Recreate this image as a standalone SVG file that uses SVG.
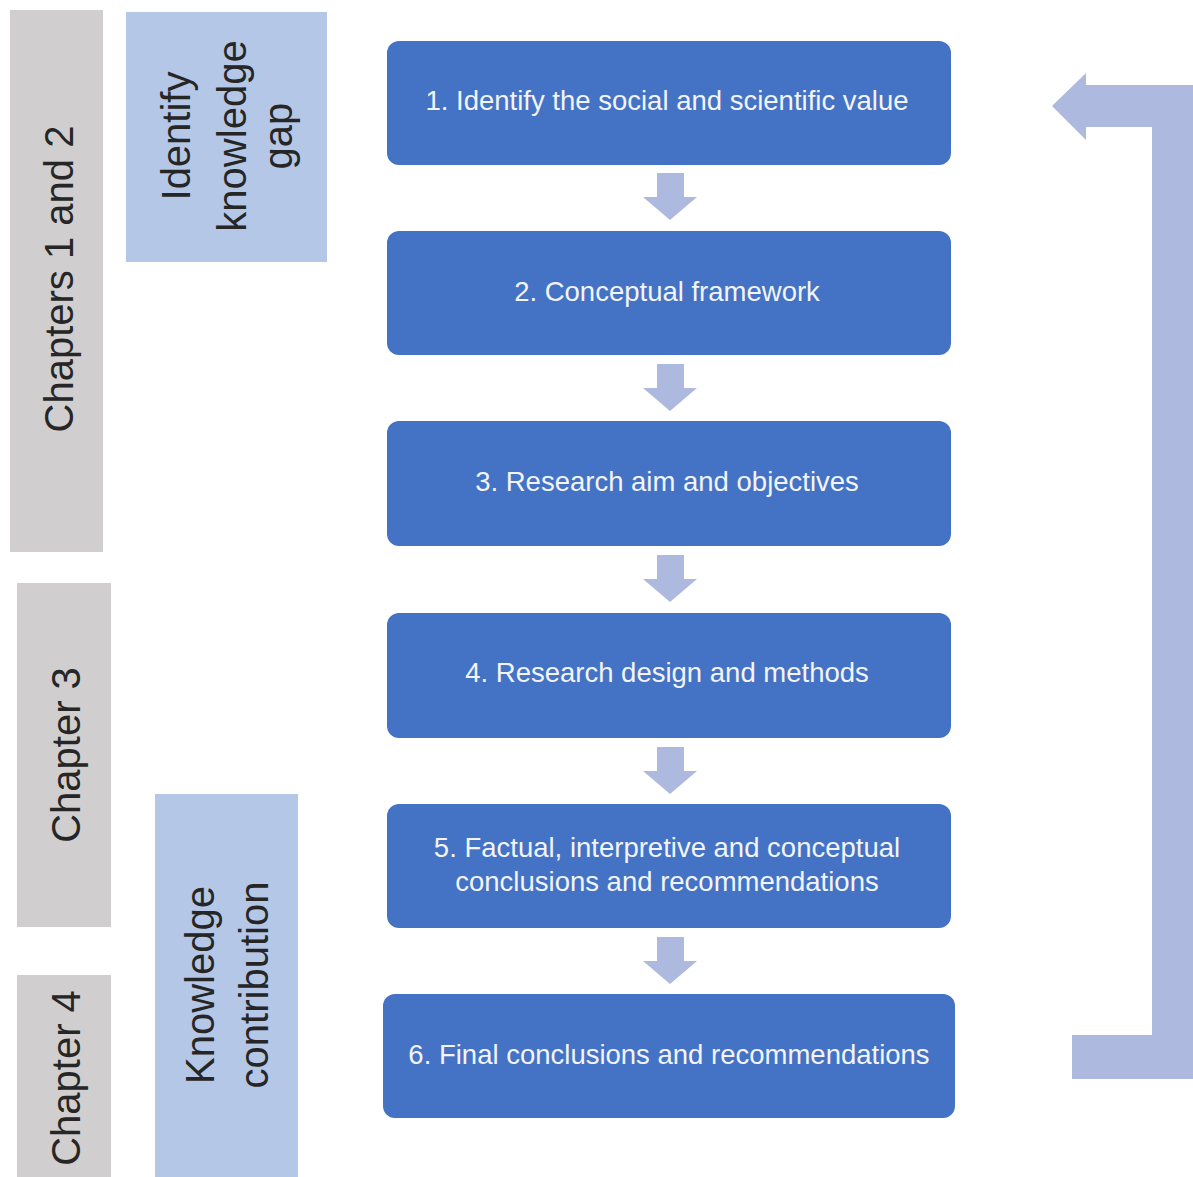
<svg xmlns="http://www.w3.org/2000/svg" xmlns:xlink="http://www.w3.org/1999/xlink" width="1193" height="1177" viewBox="0 0 1193 1177">
<style>
.chap{fill:#d0cece}
.lb{fill:#b4c7e7}
.step{fill:#4472c4}
.side{font-family:"Liberation Sans",Arial,sans-serif;font-size:40px;fill:#262626;text-anchor:middle}
.stxt{font-family:"Liberation Sans",Arial,sans-serif;font-size:27.5px;fill:#f2f4f8;text-anchor:middle}
.arr{fill:#adb9de}
</style>
<defs>
<path id="down" d="M-13,0 H14 V24 H27 L0,47 L-27,24 H-13 Z"/>
</defs>
<rect width="1193" height="1177" fill="#ffffff"/>

<g id="chapters12">
<rect class="chap" x="10" y="10" width="93" height="542"/>
<text class="side" transform="translate(73,279) rotate(-90)">Chapters 1 and 2</text>
</g>
<g id="identify-gap">
<rect class="lb" x="126" y="12" width="201" height="250"/>
<text class="side" transform="translate(190,136) rotate(-90)">Identify</text>
<text class="side" transform="translate(246,136) rotate(-90)">knowledge</text>
<text class="side" transform="translate(292,136) rotate(-90)">gap</text>
</g>
<g id="chapter3">
<rect class="chap" x="17" y="583" width="94" height="344"/>
<text class="side" transform="translate(80,755) rotate(-90)">Chapter 3</text>
</g>
<g id="chapter4">
<rect class="chap" x="17" y="975" width="94" height="202"/>
<text class="side" transform="translate(80,1078) rotate(-90)">Chapter 4</text>
</g>
<g id="knowledge-contribution">
<rect class="lb" x="155" y="794" width="143" height="383"/>
<text class="side" transform="translate(214,985) rotate(-90)">Knowledge</text>
<text class="side" transform="translate(268,985) rotate(-90)">contribution</text>
</g>

<g id="step1">
<rect class="step" x="387" y="41" width="564" height="124" rx="12"/>
<text class="stxt" x="667" y="110">1. Identify the social and scientific value</text>
</g>
<g id="step2">
<rect class="step" x="387" y="231" width="564" height="124" rx="12"/>
<text class="stxt" x="667" y="301">2. Conceptual framework</text>
</g>
<g id="step3">
<rect class="step" x="387" y="421" width="564" height="125" rx="12"/>
<text class="stxt" x="667" y="491">3. Research aim and objectives</text>
</g>
<g id="step4">
<rect class="step" x="387" y="613" width="564" height="125" rx="12"/>
<text class="stxt" x="667" y="682">4. Research design and methods</text>
</g>
<g id="step5">
<rect class="step" x="387" y="804" width="564" height="124" rx="12"/>
<text class="stxt" x="667" y="857">5. Factual, interpretive and conceptual</text>
<text class="stxt" x="667" y="891">conclusions and recommendations</text>
</g>
<g id="step6">
<rect class="step" x="383" y="994" width="572" height="124" rx="12"/>
<text class="stxt" x="669" y="1064">6. Final conclusions and recommendations</text>
</g>

<g id="connectors">
<use xlink:href="#down" class="arr" x="670" y="173"/>
<use xlink:href="#down" class="arr" x="670" y="364"/>
<use xlink:href="#down" class="arr" x="670" y="555"/>
<use xlink:href="#down" class="arr" x="670" y="747"/>
<use xlink:href="#down" class="arr" x="670" y="937"/>
<path class="arr" d="M1052,106 L1086,73 V85 H1193 V1079 H1072 V1035 H1152 V127 H1086 V140 Z"/>
</g>
</svg>
